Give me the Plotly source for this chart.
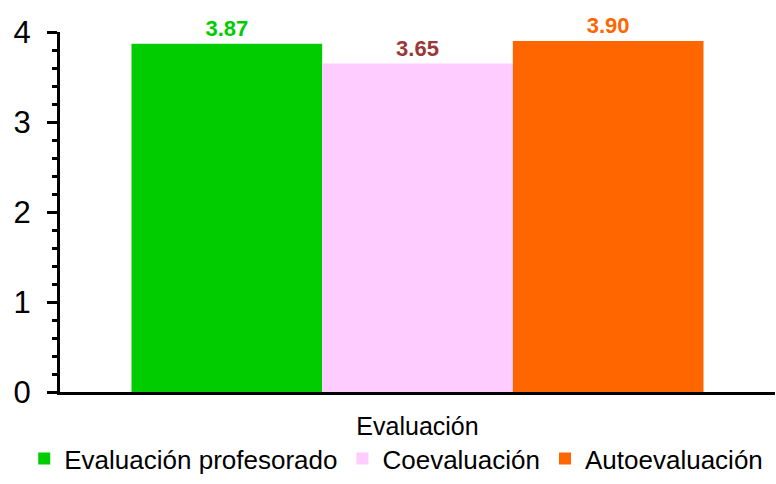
import plotly.graph_objects as go

category = ["Evaluación"]
series_names = ["Evaluación profesorado", "Coevaluación", "Autoevaluación"]
series_values = [3.87, 3.65, 3.90]
bar_colors = ["#00CC00", "#FFCCFF", "#FF6600"]
label_colors = ["#00CC00", "#993939", "#FF6600"]
y_ticks = [0, 1, 2, 3, 4]

fig = go.Figure()
for name, val, col, lcol in zip(series_names, series_values, bar_colors, label_colors):
    fig.add_trace(go.Bar(
        x=category, y=[val], name=name,
        marker=dict(color=col, line=dict(width=0)),
        text=[f"{val:.2f}"], textposition="outside",
        textfont=dict(color=lcol, size=22, family="Liberation Sans, Arial", weight="bold"),
        cliponaxis=False,
    ))

fig.update_layout(
    width=776, height=484,
    margin=dict(l=60, r=1, t=32, b=92, autoexpand=False),
    paper_bgcolor="white", plot_bgcolor="white",
    barmode="group", bargap=0.2, bargroupgap=0,
    font=dict(family="Liberation Sans, Arial", color="black"),
    showlegend=True,
    legend=dict(orientation="h", x=-0.05, xanchor="left", y=-0.25, yanchor="bottom",
                font=dict(size=26), itemwidth=30, tracegroupgap=0),
    xaxis=dict(showline=True, linecolor="black", linewidth=3, ticks="",
               tickfont=dict(size=25), showgrid=False, ticklabelstandoff=10),
    yaxis=dict(range=[0, 4], tickvals=y_ticks, showline=True, linecolor="black", linewidth=3,
               ticks="outside", ticklen=10, tickwidth=3, tickcolor="black",
               tickfont=dict(size=31), showgrid=False, zeroline=False, ticklabelstandoff=10,
               minor=dict(ticks="outside", ticklen=5, tickwidth=3, tickcolor="black", dtick=0.2)),
)

fig.write_html("out.html")
